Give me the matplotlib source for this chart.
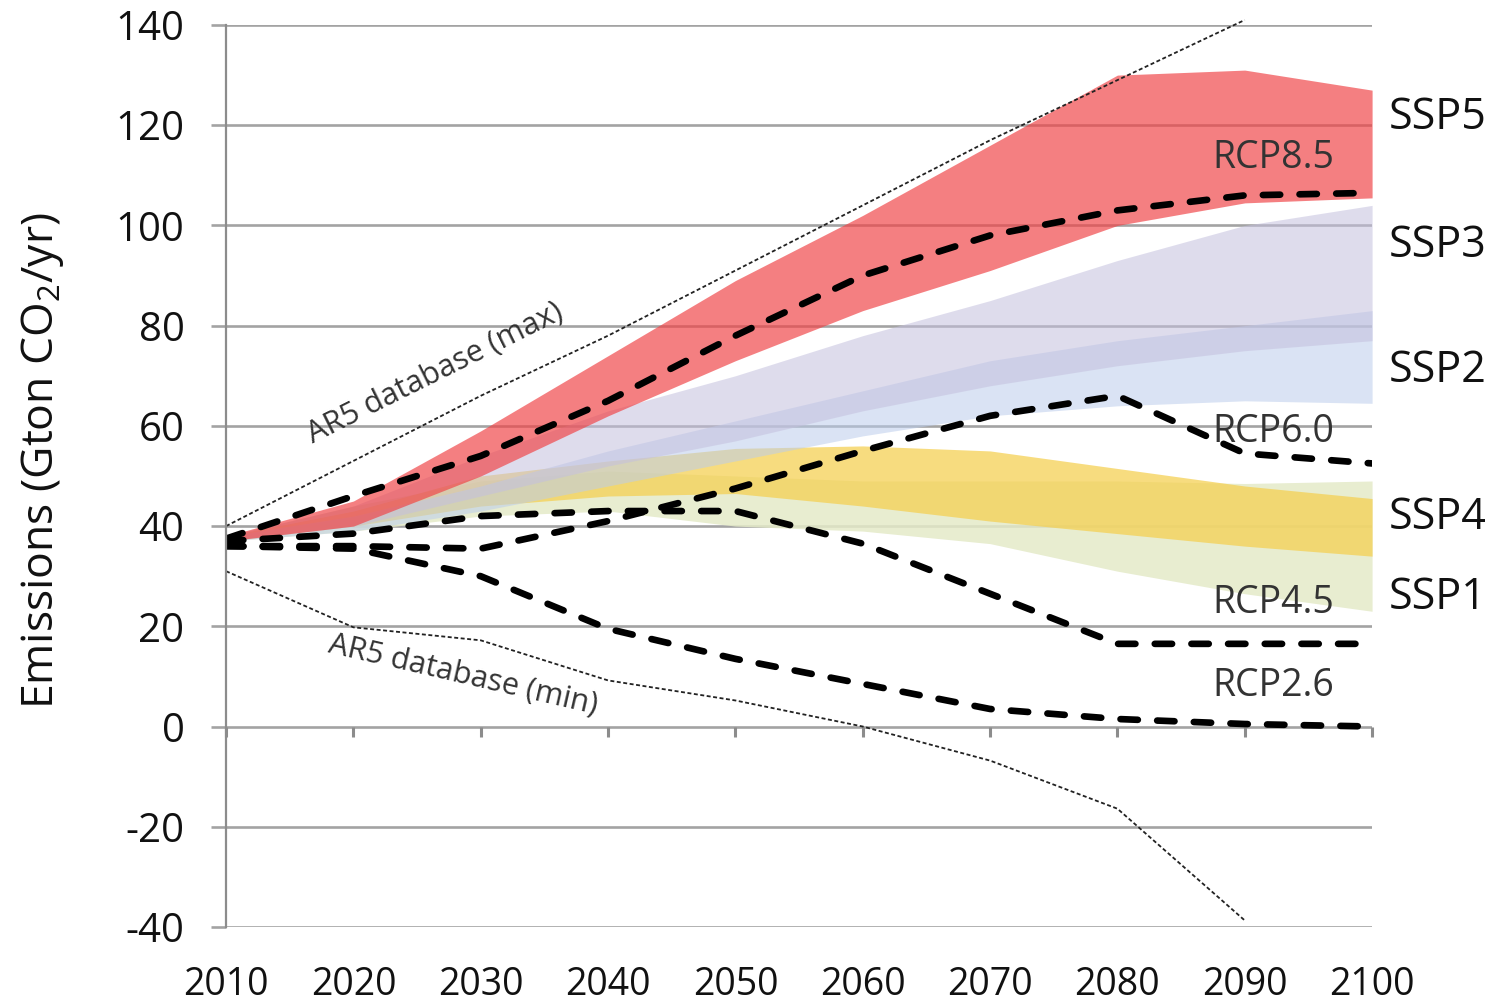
import matplotlib
matplotlib.use("Agg")
import matplotlib.pyplot as plt

plt.rcParams['font.family'] = ['Open Sans', 'DejaVu Sans']
plt.rcParams['mathtext.fontset'] = 'custom'
plt.rcParams['mathtext.rm'] = 'Open Sans'

# ---- data (Gt CO2 / yr) ----
years = [2010, 2020, 2030, 2040, 2050, 2060, 2070, 2080, 2090, 2100]

ar5_years = [2010, 2020, 2030, 2040, 2050, 2060, 2070, 2080, 2090]
ar5_max = [40, 53, 66, 78, 91, 104, 117, 129, 141]
ar5_min = [31, 19.8, 17.2, 9.2, 5.2, 0, -6.8, -16.4, -38.7]

ssp5_hi = [38, 45, 59, 74, 89, 102, 116, 130, 131, 127]
ssp5_lo = [37, 40, 50, 62, 73, 83, 91, 100, 104.5, 105.5]
ssp3_hi = [38, 44, 54, 63, 70, 78, 85, 93, 100, 104]
ssp3_lo = [37, 40, 46, 52, 57, 63, 68, 72, 75, 77]
ssp2_hi = [38, 42, 48, 55, 61, 67, 73, 77, 80, 83]
ssp2_lo = [37, 39, 43, 48, 53, 58, 62, 64, 65, 64.5]
ssp4_hi = [38, 43, 50, 53, 55.5, 56, 55, 51.5, 48, 45.5]
ssp4_lo = [37, 40, 44, 46, 46.5, 44, 41, 38.5, 36, 34]
ssp1_hi = [38, 44, 49, 51, 50, 49, 49, 49, 48.5, 49]
ssp1_lo = [37, 39, 42, 43, 40, 39, 36.5, 31, 26.5, 23]

rcp85 = [37.5, 46, 54, 65, 78, 90, 98, 103, 106, 106.5]
rcp60 = [36, 36, 35.5, 41, 47.5, 55, 62, 66, 54.5, 52.5]
rcp45 = [37, 38.5, 42, 43, 43, 36.5, 26.5, 16.5, 16.5, 16.5]
rcp26 = [36, 35.5, 30, 19.5, 13.5, 8.5, 3.5, 1.5, 0.5, 0]

y_ticks = [-40, -20, 0, 20, 40, 60, 80, 100, 120, 140]

# ---- figure ----
fig = plt.figure(figsize=(15.04, 10.08), dpi=100)
ax = fig.add_axes([0.1503, 0.0804, 0.7620, 0.8948])
ax.set_xlim(2010, 2100)
ax.set_ylim(-40, 140)

grid_c = '#a3a3a3'
for yv in y_ticks:
    ax.axhline(yv, color=grid_c, lw=1.9, zorder=1)

# scenario ranges
ax.fill_between(years, ssp1_lo, ssp1_hi, color='#e4eac8', alpha=0.85, lw=0, zorder=2)
ax.fill_between(years, ssp4_lo, ssp4_hi, color='#f5cf4e', alpha=0.72, lw=0, zorder=3)
ax.fill_between(years, ssp2_lo, ssp2_hi, color='#bccdec', alpha=0.55, lw=0, zorder=4)
ax.fill_between(years, ssp3_lo, ssp3_hi, color='#c4c0de', alpha=0.55, lw=0, zorder=5)
ax.fill_between(years, ssp5_lo, ssp5_hi, color='#f04346', alpha=0.68, lw=0, zorder=6)

# AR5 database envelope
ax.plot(ar5_years, ar5_max, color='#222222', lw=1.3, ls=(0, (2.2, 1.4)),
        zorder=7, clip_on=False)
ax.plot(ar5_years, ar5_min, color='#222222', lw=1.3, ls=(0, (2.2, 1.4)),
        zorder=7)

# RCP pathways
for series in (rcp85, rcp60, rcp45, rcp26):
    ax.plot(years, series, color='black', lw=4.8, ls=(0, (2.6, 2.9)),
            dash_capstyle='round', solid_capstyle='round', zorder=8)

# zero axis with decade ticks
ax.plot(years, [0] * len(years), ls='none', marker=3, ms=7, mew=2.2,
        color='#8c8c8c', zorder=1, clip_on=False)

# axes styling
for side in ('top', 'right', 'bottom'):
    ax.spines[side].set_visible(False)
ax.spines['left'].set_color('#8c8c8c')
ax.spines['left'].set_linewidth(1.6)
ax.spines['left'].set_zorder(9)

ax.set_yticks(y_ticks)
ax.set_yticklabels([str(v) for v in y_ticks])
ax.tick_params(axis='y', length=11, width=1.9, color=grid_c, pad=19,
               labelsize=29, labelcolor='#111111')
ax.set_xticks(years)
ax.set_xticklabels([str(v) for v in years])
ax.tick_params(axis='x', length=0, pad=28, labelsize=27, labelcolor='#111111')

fig.text(43 / 1504, 1 - 461 / 1008, r'Emissions (Gton CO$_{\mathregular{2}}$/yr)',
         rotation=90, ha='center', va='center', fontsize=32, color='#111111')

# RCP labels
rcp_c = '#333333'
ax.text(2097, 113.4, 'RCP8.5', ha='right', va='center', fontsize=27, color=rcp_c, zorder=10)
ax.text(2097, 58.7, 'RCP6.0', ha='right', va='center', fontsize=27, color=rcp_c, zorder=10)
ax.text(2097, 24.7, 'RCP4.5', ha='right', va='center', fontsize=27, color=rcp_c, zorder=10)
ax.text(2097, 8.0, 'RCP2.6', ha='right', va='center', fontsize=27, color=rcp_c, zorder=10)

# SSP labels
for name, yv in (('SSP5', 121.5), ('SSP3', 96), ('SSP2', 71), ('SSP4', 41.7), ('SSP1', 25.7)):
    ax.text(2101.3, yv, name, ha='left', va='center', fontsize=31,
            color='#111111', clip_on=False)

# AR5 envelope labels
ax.text(2026.4, 70.5, 'AR5 database (max)', rotation=26.5, rotation_mode='anchor',
        ha='center', va='center', fontsize=22, color='#333333', zorder=10)
ax.text(2028.6, 10.3, 'AR5 database (min)', rotation=-13, rotation_mode='anchor',
        ha='center', va='center', fontsize=22, color='#333333', zorder=10)

fig.savefig('out.png', dpi=100)
